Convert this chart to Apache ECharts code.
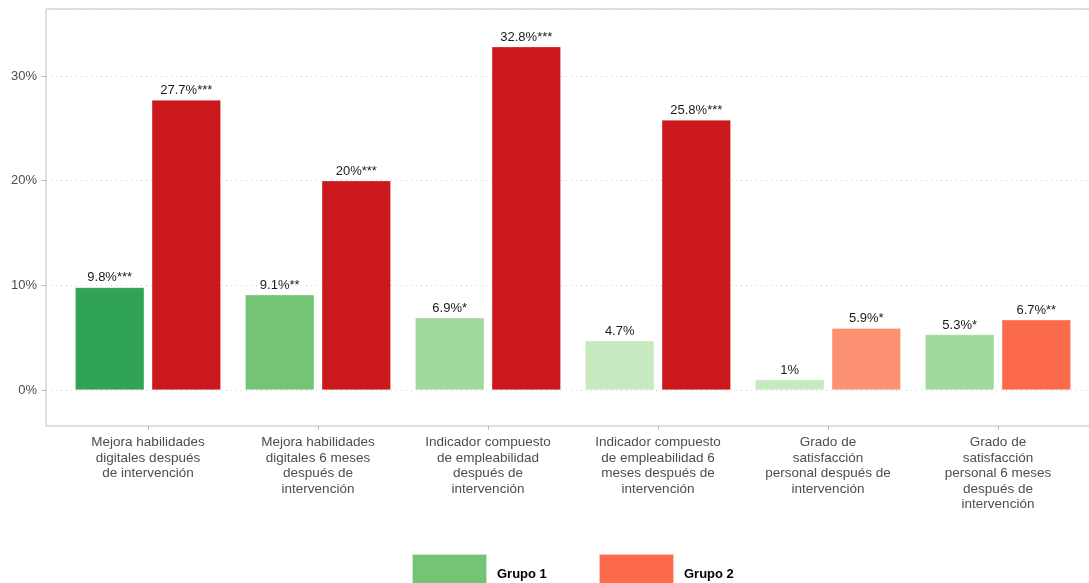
<!DOCTYPE html>
<html><head><meta charset="utf-8">
<script src="https://cdn.jsdelivr.net/npm/echarts@6/dist/echarts.min.js"></script>
<style>html,body{margin:0;padding:0;background:#fff}#c{width:1089px;height:583px}</style>
</head><body><div id="c"></div>
<script>
const categories = [
  "Mejora habilidades\ndigitales después\nde intervención",
  "Mejora habilidades\ndigitales 6 meses\ndespués de\nintervención",
  "Indicador compuesto\nde empleabilidad\ndespués de\nintervención",
  "Indicador compuesto\nde empleabilidad 6\nmeses después de\nintervención",
  "Grado de\nsatisfacción\npersonal después de\nintervención",
  "Grado de\nsatisfacción\npersonal 6 meses\ndespués de\nintervención"
];
const grupo1 = [9.8, 9.1, 6.9, 4.7, 1.0, 5.3];
const grupo1Labels = ["9.8%***", "9.1%**", "6.9%*", "4.7%", "1%", "5.3%*"];
const grupo1Colors = ["#31a354", "#74c476", "#a1d99b", "#c7e9c0", "#c7e9c0", "#a1d99b"];
const grupo2 = [27.7, 20.0, 32.8, 25.8, 5.9, 6.7];
const grupo2Labels = ["27.7%***", "20%***", "32.8%***", "25.8%***", "5.9%*", "6.7%**"];
const grupo2Colors = ["#cb181d", "#cb181d", "#cb181d", "#cb181d", "#fc9272", "#fb6a4a"];
const yTicks = [0, 10, 20, 30];

const chart = echarts.init(document.getElementById('c'), null, {renderer: 'canvas'});
const yMin = -3.44, yMax = 36.4;
const font = "Liberation Sans, Arial, sans-serif";

function mk(vals, labels, colors) {
  return vals.map((v, i) => ({value: v, itemStyle: {color: colors[i]}, label: {formatter: labels[i]}}));
}

chart.setOption({
  animation: false,
  backgroundColor: '#fff',
  grid: [
    {left: 46, width: 1070, top: 9, bottom: 157, show: true, outerBoundsMode: 'none', containLabel: false,
      borderColor: '#bdbdbd', borderWidth: 1, backgroundColor: 'transparent'},
    {left: 46, right: 0, top: 9, bottom: 193, outerBoundsMode: 'none'},
    {left: 63, width: 1020, top: 9, bottom: 157, outerBoundsMode: 'none'}
  ],
  xAxis: [
    {gridIndex: 0, type: 'category', data: ['a'], show: false},
    {gridIndex: 1, type: 'category', data: ['a'], show: false},
    {gridIndex: 2, type: 'category', data: categories,
      axisLine: {show: false, onZero: false},
      axisTick: {show: true, alignWithLabel: true, length: 4, lineStyle: {color: '#bdbdbd'}},
      axisLabel: {color: '#4d4d4d', fontSize: 13.5, fontFamily: font, lineHeight: 15.5, margin: 9, interval: 0}
    }
  ],
  yAxis: [
    {gridIndex: 0, type: 'value', min: yMin, max: yMax, show: false, splitLine: {show: false}},
    {gridIndex: 1, type: 'value', min: 0, max: yMax, interval: 10,
      axisLine: {show: false},
      axisTick: {show: true, length: 5, lineStyle: {color: '#bdbdbd'}},
      axisLabel: {color: '#4d4d4d', fontSize: 13, fontFamily: font, margin: 9, showMaxLabel: false,
        formatter: v => (yTicks.indexOf(v) >= 0 ? v + '%' : '')},
      splitLine: {show: true, lineStyle: {color: '#d0d0d0', type: [1, 4], width: 1}}
    },
    {gridIndex: 2, type: 'value', min: yMin, max: yMax, show: false, splitLine: {show: false}}
  ],
  legend: [
    {left: 411, top: 553, padding: 0, itemWidth: 75, itemHeight: 40, icon: 'rect', data: ['Grupo 1'],
      textStyle: {color: '#000', fontWeight: 'bold', fontSize: 13, fontFamily: font, padding: [0, 0, 0, 5]}},
    {left: 598, top: 553, padding: 0, itemWidth: 75, itemHeight: 40, icon: 'rect', data: ['Grupo 2'],
      textStyle: {color: '#000', fontWeight: 'bold', fontSize: 13, fontFamily: font, padding: [0, 0, 0, 5]}}
  ],
  series: [
    {name: 'Grupo 1', type: 'bar', xAxisIndex: 2, yAxisIndex: 2, barWidth: 69, barGap: '11%',
      itemStyle: {color: '#74c476', borderColor: 'rgba(255,255,255,0.6)', borderWidth: 0.5},
      label: {show: true, position: 'top', distance: 3, color: '#1a1a1a', fontSize: 13, fontFamily: font},
      data: mk(grupo1, grupo1Labels, grupo1Colors)},
    {name: 'Grupo 2', type: 'bar', xAxisIndex: 2, yAxisIndex: 2, barWidth: 69, barGap: '11%',
      itemStyle: {color: '#fb6a4a', borderColor: 'rgba(255,255,255,0.6)', borderWidth: 0.5},
      label: {show: true, position: 'top', distance: 3, color: '#1a1a1a', fontSize: 13, fontFamily: font},
      data: mk(grupo2, grupo2Labels, grupo2Colors)}
  ]
});
</script></body></html>
